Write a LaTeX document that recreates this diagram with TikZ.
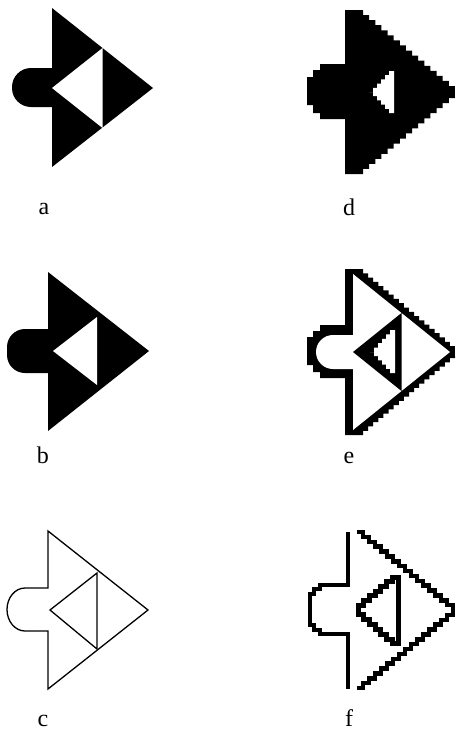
\documentclass[tikz,border=0pt]{standalone}
\usepackage{fontspec}
\setmainfont{Liberation Serif}

\tikzset{
  lbl/.style={anchor=base,font=\fontsize{24}{28}\selectfont},
  outl/.style={line width=1.3pt,line join=miter},
  pix/.style={line width=4.5pt,line join=miter}
}

\begin{document}
\begin{tikzpicture}[x=1pt,y=-1pt]
\useasboundingbox (0,0) rectangle (457,732);

% a
\begin{scope}[shift={(52,88)}]
\fill (0,-80) -- (101,0) -- (0,79) -- cycle;
\fill[rounded corners=19] (-40,-20) rectangle (20,19);
\fill[white] (0,0) -- (50.5,-40) -- (50.5,40) -- cycle;
\end{scope}

% b
\begin{scope}[shift={(48,351)}]
\fill (0,-79) -- (101,0) -- (0,80) -- cycle;
\fill[rounded corners=18] (-41,-22) rectangle (20,22);
\fill[white] (5,0) -- (49,-34) -- (49,34) -- cycle;
\end{scope}

% c
\begin{scope}[shift={(48,610)}]
\draw[outl] (0,-22) -- (0,-79) -- (100,0) -- (0,79) -- (0,21) -- (-23,21)
  arc[start angle=90,end angle=270,x radius=18,y radius=21.5] -- cycle;
\draw[outl] (2,0) -- (49,-37) -- (49,39) -- cycle;
\end{scope}

% d
\begin{scope}[shift={(353,92)}]
\fill (-8,-82) -- (10,-82) \foreach \i in {1,...,15}{ -- ++(0,5.07) -- ++(6.13,0)}
  -- (102,6) \foreach \i in {1,...,15}{ -- ++(-6.13,0) -- ++(0,5.07)}
  -- (-8,82) -- (-8,27) -- (-33,27) -- (-33,21) -- (-40,21) -- (-40,13) -- (-46,13)
  -- (-46,-15) -- (-40,-15) -- (-40,-22) -- (-33,-22) -- (-33,-28) -- (-8,-28) -- cycle;
\fill[white] (41,-21) -- ++(-5,0) \foreach \i in {1,...,5}{ -- ++(0,4.2) -- ++(-4,0)}
  \foreach \i in {1,...,5}{ -- ++(4,0) -- ++(0,4.2)} -- (41,21) -- cycle;
\end{scope}

% e
\begin{scope}[shift={(353,352)}]
\fill (-8,-83) -- (10,-83) \foreach \i in {1,...,18}{ -- ++(0,4.28) -- ++(5.11,0)}
  -- (102,6) \foreach \i in {1,...,18}{ -- ++(-5.11,0) -- ++(0,4.28)}
  -- (-8,83) -- (-8,26) -- (-33,26) -- (-33,20) -- (-40,20) -- (-40,13) -- (-46,13)
  -- (-46,-15) -- (-40,-15) -- (-40,-21) -- (-33,-21) -- (-33,-27) -- (-8,-27) -- cycle;
\fill[white] (0,-78) -- (97,0) -- (0,78) -- (0,17) -- (-20,17)
  arc[start angle=90,end angle=270,radius=17] -- (0,-17) -- cycle;
\fill (0,0) -- (48.5,-39) -- (48.5,39) -- cycle;
\fill[white] (42,-22) -- ++(-5,0) \foreach \i in {1,...,5}{ -- ++(0,4.4) -- ++(-4,0)}
  \foreach \i in {1,...,5}{ -- ++(4,0) -- ++(0,4.2)} -- (42,21) -- cycle;
\end{scope}

% f
\begin{scope}[shift={(353,610)}]
\draw[pix] (-5,-78) -- (-5,-25) -- (-33,-25) -- (-33,-21) -- (-39,-21) -- (-39,-16)
  -- (-43,-16) -- (-43,15) -- (-39,15) -- (-39,20) -- (-33,20) -- (-33,24) -- (-5,24) -- (-5,79);
\draw[pix] (4,-78) \foreach \i in {1,...,16}{ -- ++(6,0) -- ++(0,4.875)};
\draw[pix] (4,78) \foreach \i in {1,...,16}{ -- ++(6,0) -- ++(0,-4.875)};
\draw[pix,line width=5pt] (45,-33) \foreach \i in {1,...,7}{ -- ++(-5.7,0) -- ++(0,4.7)}
  \foreach \i in {1,...,7}{ -- ++(0,4.86) -- ++(5.7,0)} -- cycle;
\end{scope}

% labels
\node[lbl] (la) at (44,214) {a};
\node[lbl] (lb) at (43,463) {b};
\node[lbl] (lc) at (43,726) {c};
\node[lbl] (ld) at (349,215) {d};
\node[lbl] (le) at (349,463) {e};
\node[lbl] (lf) at (349,726) {f};
\end{tikzpicture}
\end{document}
